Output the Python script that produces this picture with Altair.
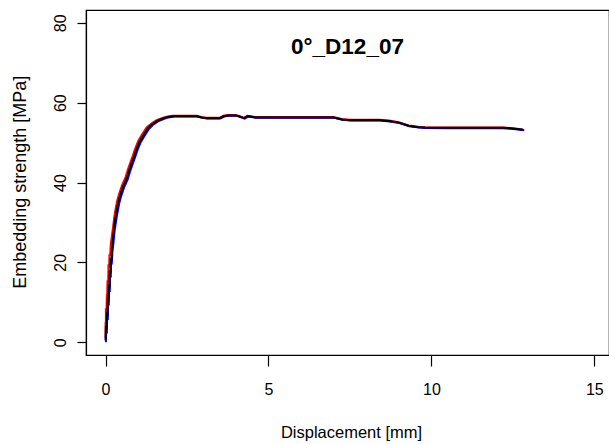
import altair as alt
import pandas as pd

FONT = "Liberation Sans"

# ---- data ----
x_ticks = [0, 5, 10, 15]
y_ticks = [0, 20, 40, 60, 80]

black_d = [0.00, 0.01, 0.03, 0.04, 0.06, 0.07, 0.09, 0.10, 0.12, 0.13,
           0.15, 0.16, 0.18, 0.20, 0.23, 0.26, 0.29, 0.34, 0.39, 0.45,
           0.49, 0.55, 0.65, 0.72, 0.80, 0.88, 0.95, 1.05, 1.16, 1.30,
           1.42, 1.51, 1.60, 1.75, 1.90, 2.08,
           2.40, 2.80, 2.95, 3.10, 3.50, 3.62, 3.75, 4.00, 4.12, 4.25,
           4.35, 4.45, 4.60, 5.50, 6.50, 7.00, 7.25, 7.50, 8.00, 8.40,
           8.70, 9.00, 9.30, 9.60, 9.80, 10.50, 11.50, 12.20, 12.50, 12.82]
black_s = [0.5, 4.0, 3.2, 7.5, 6.6, 11.0, 10.2, 14.5, 13.6, 18.0,
           17.2, 21.0, 20.5, 23.5, 26.0, 28.5, 30.5, 32.8, 35.0, 36.8,
           37.8, 39.2, 41.0, 42.9, 44.8, 46.6, 48.3, 50.3, 51.8, 53.6,
           54.5, 55.0, 55.5, 56.0, 56.4, 56.6,
           56.6, 56.6, 56.3, 56.1, 56.1, 56.6, 56.8, 56.8, 56.5, 56.1,
           56.6, 56.5, 56.3, 56.3, 56.3, 56.3, 55.8, 55.6, 55.6, 55.6,
           55.4, 55.0, 54.2, 53.85, 53.75, 53.7, 53.7, 53.7, 53.5, 53.2]

red_d = [0.00, 0.00, 0.01, 0.01, 0.03, 0.04, 0.05, 0.06, 0.08, 0.09,
         0.11, 0.12, 0.14, 0.16, 0.19, 0.23, 0.26, 0.30, 0.35, 0.41,
         0.45, 0.51, 0.61, 0.68, 0.76, 0.84, 0.91, 1.01, 1.12, 1.26,
         1.38, 1.47, 1.57, 1.72, 1.87, 2.05,
         2.40, 2.80, 2.95, 3.10, 3.50, 3.62, 3.75, 4.00, 4.12, 4.25,
         4.35, 4.45, 4.60, 5.50, 6.50, 7.00, 7.25, 7.50, 8.00, 8.40,
         8.70, 9.00, 9.30, 9.60, 9.80, 10.50, 11.50, 12.20, 12.50, 12.80]
red_s = [1.0, 5.0, 4.2, 8.5, 7.7, 12.0, 11.2, 15.5, 14.8, 19.5,
         18.6, 22.0, 21.6, 24.5, 26.4, 28.8, 30.8, 33.0, 35.2, 37.0,
         38.0, 39.4, 41.2, 43.1, 45.0, 46.8, 48.5, 50.5, 52.0, 53.8,
         54.6, 55.1, 55.6, 56.1, 56.5, 56.7,
         56.7, 56.7, 56.4, 56.2, 56.2, 56.7, 56.9, 56.9, 56.6, 56.2,
         56.7, 56.6, 56.4, 56.4, 56.4, 56.4, 55.9, 55.7, 55.7, 55.7,
         55.5, 55.1, 54.3, 53.95, 53.85, 53.8, 53.8, 53.8, 53.6, 53.3]

blue_d = [0.01, 0.02, 0.04, 0.05, 0.07, 0.08, 0.10, 0.11, 0.13, 0.14,
          0.16, 0.17, 0.19, 0.21, 0.25, 0.28, 0.32, 0.37, 0.42, 0.48,
          0.52, 0.58, 0.68, 0.75, 0.83, 0.91, 0.98, 1.08, 1.19, 1.33,
          1.45, 1.54, 1.63, 1.78, 1.93, 2.11,
          2.40, 2.80, 2.97, 3.12, 3.52, 3.64, 3.77, 4.02, 4.14, 4.27,
          4.37, 4.47, 4.62, 5.50, 6.50, 7.02, 7.27, 7.52, 8.00, 8.42,
          8.72, 9.02, 9.32, 9.62, 9.82, 10.50, 11.50, 12.20, 12.52, 12.85]
blue_s = [0.0, 3.0, 2.2, 6.5, 5.6, 10.0, 9.2, 13.5, 12.6, 17.0,
          16.2, 20.0, 19.5, 22.5, 25.5, 28.0, 30.2, 32.6, 34.8, 36.6,
          37.6, 39.0, 40.8, 42.7, 44.6, 46.4, 48.1, 50.1, 51.6, 53.4,
          54.4, 54.9, 55.4, 55.9, 56.3, 56.5,
          56.5, 56.5, 56.2, 56.0, 56.0, 56.5, 56.7, 56.7, 56.4, 56.0,
          56.5, 56.4, 56.2, 56.2, 56.2, 56.2, 55.7, 55.5, 55.5, 55.5,
          55.3, 54.9, 54.1, 53.75, 53.65, 53.6, 53.6, 53.6, 53.4, 53.1]


def frame(d, s):
    return pd.DataFrame({"d": d, "s": s, "i": list(range(len(d)))})


PLOT_W = 523
PLOT_H = 345

x_scale = alt.Scale(domain=[-0.6, 15.45], nice=False, zero=False)
y_scale = alt.Scale(domain=[-3.2, 83.2], nice=False, zero=False)

x_axis = alt.Axis(
    orient="bottom", values=x_ticks, title="Displacement [mm]", grid=False,
    domain=True, domainColor="black", domainWidth=1.2,
    ticks=True, tickSize=11, tickColor="black", tickWidth=1.2,
    labelFont=FONT, labelFontSize=16, labelColor="black",
    labelBaseline="alphabetic", labelAlign="center", labelPadding=28,
    labelFlush=False, labelOverlap=False,
    titleFont=FONT, titleFontSize=16.5, titleFontWeight="normal",
    titleColor="black", titleX=265, titleY=82, titleAlign="center",
    titleBaseline="alphabetic",
)
y_axis = alt.Axis(
    orient="left", values=y_ticks, title="Embedding strength [MPa]", grid=False,
    domain=True, domainColor="black", domainWidth=1.2,
    ticks=True, tickSize=9, tickColor="black", tickWidth=1.2,
    labelFont=FONT, labelFontSize=16, labelColor="black", labelAngle=270,
    labelAlign="center", labelBaseline="alphabetic", labelPadding=12,
    labelFlush=False, labelOverlap=False,
    titleFont=FONT, titleFontSize=18, titleFontWeight="normal",
    titleColor="black", titleAngle=270, titleX=-60.3, titleY=171.7,
    titleAlign="center", titleBaseline="alphabetic",
)


def line(df, color, w):
    return alt.Chart(df).mark_line(color=color, strokeWidth=w, clip=True).encode(
        x=alt.X("d:Q", scale=x_scale, axis=x_axis),
        y=alt.Y("s:Q", scale=y_scale, axis=y_axis),
        order=alt.Order("i:Q"),
    )


chart = alt.layer(
    line(frame(red_d, red_s), "#FF0000", 2.0),
    line(frame(blue_d, blue_s), "#0000FF", 2.0),
    line(frame(black_d, black_s), "#000000", 2.0),
).properties(
    width=PLOT_W,
    height=PLOT_H,
    background="white",
    padding={"left": 86, "top": 10, "right": 0, "bottom": 89},
    autosize=alt.AutoSizeParams(type="none"),
    title=alt.TitleParams(
        text="0°_D12_07", font=FONT, fontSize=22.5, fontWeight="bold",
        color="black", anchor="middle", frame="group", baseline="alphabetic",
        offset=0, dy=66.6,
    ),
).configure_view(stroke="black", strokeWidth=1.2)

chart.save("out.html", embed_options={"renderer": "svg", "actions": False})
